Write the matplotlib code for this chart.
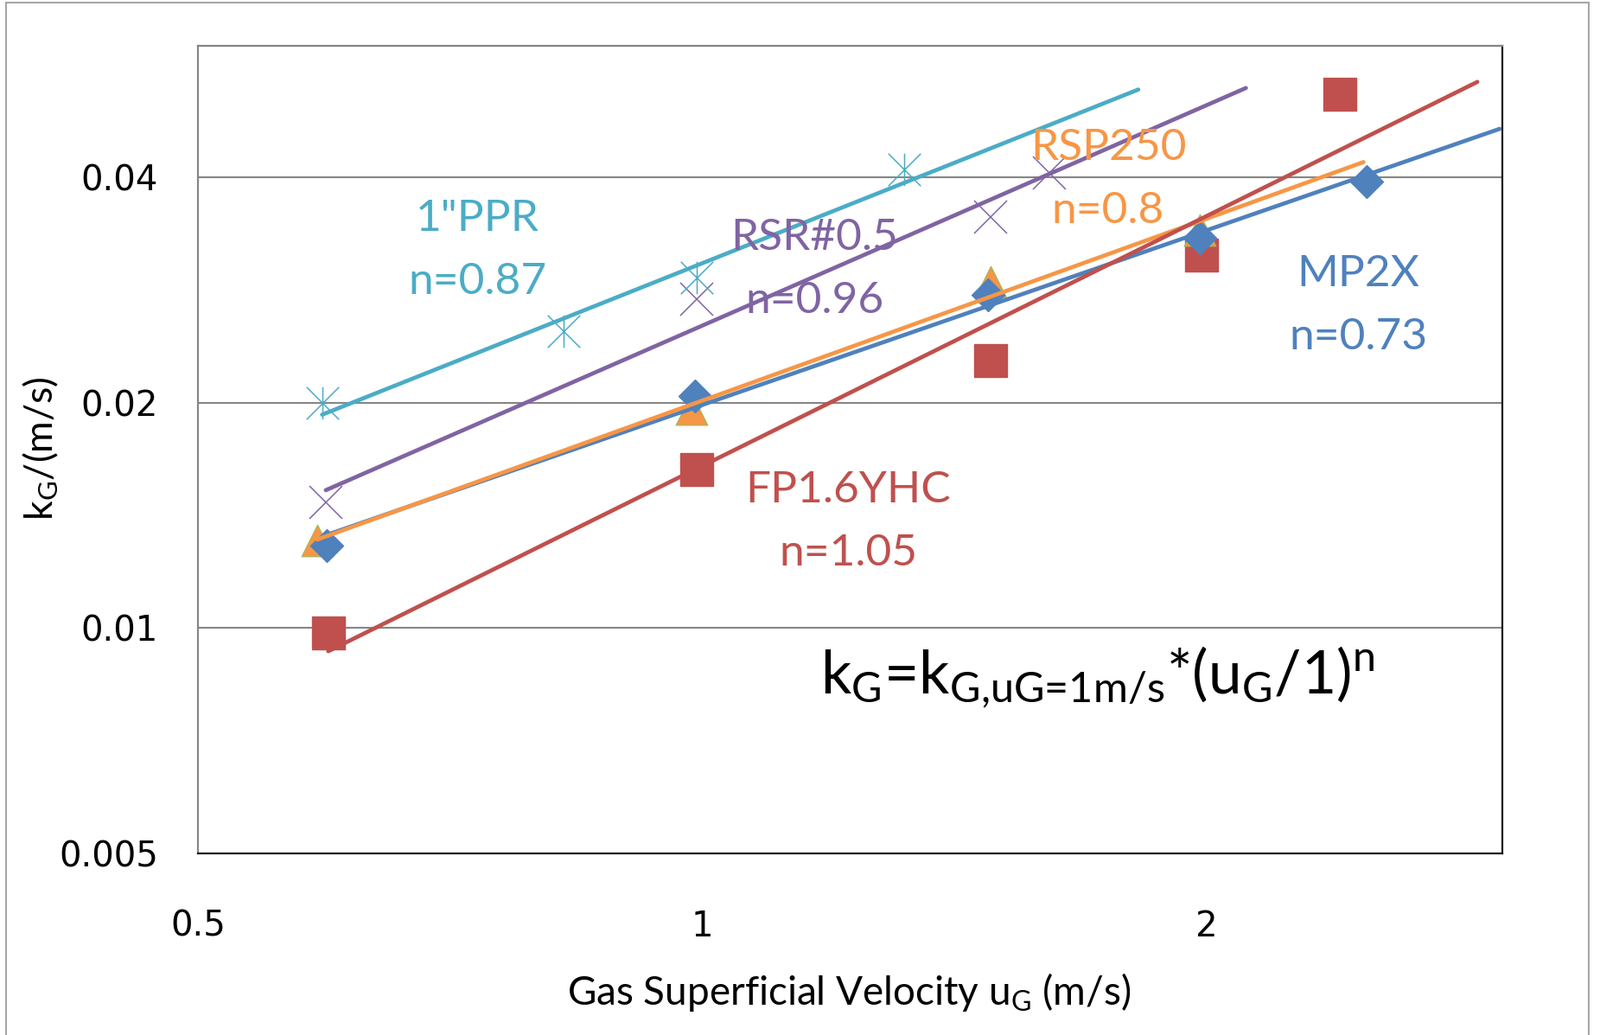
import numpy as np
import matplotlib
matplotlib.use("Agg")
import matplotlib.pyplot as plt
from matplotlib.path import Path
from matplotlib.patches import Rectangle

plt.rcParams['font.family'] = ['Lato', 'DejaVu Sans']
plt.rcParams['mathtext.fontset'] = 'custom'
plt.rcParams['mathtext.rm'] = 'Lato'
plt.rcParams['mathtext.it'] = 'Lato:italic'

# data (u_G in m/s, k_G in m/s)
mp2x_u = [0.597, 0.99, 1.48, 1.98, 2.49]
mp2x_k = [0.0129, 0.0204, 0.0279, 0.0332, 0.0395]

rsp250_u = [0.589, 0.985, 1.485, 1.98]
rsp250_k = [0.0131, 0.0196, 0.0290, 0.0340]

fp_u = [0.598, 0.992, 1.485, 1.985, 2.40]
fp_k = [0.00984, 0.0163, 0.0228, 0.0315, 0.0517]

rsr_u = [0.596, 0.992, 1.485, 1.61]
rsr_k = [0.0147, 0.0275, 0.0354, 0.0406]

ppr_u = [0.593, 0.826, 0.992, 1.32]
ppr_k = [0.0200, 0.0249, 0.0294, 0.0410]

series_names = ['MP2X', 'RSP250', 'FP1.6YHC', 'RSR#0.5', '1"PPR']
n_labels = ['n=0.73', 'n=0.8', 'n=1.05', 'n=0.96', 'n=0.87']
forecast = 0.5  # trendline forward forecast (m/s)

x_ticks = [0.5, 1, 2]
x_ticklabels = ['0.5', '1', '2']
y_ticks = [0.005, 0.01, 0.02, 0.04]
y_ticklabels = ['0.005', '0.01', '0.02', '0.04']

blue = '#4F81BD'
orange = '#F79646'
red = '#C0504D'
purple = '#8064A2'
cyan = '#4BACC6'

W, H = 1851, 1197
fig = plt.figure(figsize=(W / 100, H / 100), dpi=100)
ax = fig.add_axes([229 / W, 1 - 986.7 / H, (1737.7 - 229) / W, (986.7 - 53) / H])

# custom markers
tri = Path([(0, 1), (-1, -1), (1, -1), (0, 1)],
           [Path.MOVETO, Path.LINETO, Path.LINETO, Path.CLOSEPOLY])
star = Path([(-1, -1), (1, 1), (-1, 1), (1, -1), (0, -1), (0, 1)],
            [Path.MOVETO, Path.LINETO, Path.MOVETO, Path.LINETO, Path.MOVETO, Path.LINETO])

ax.plot(fp_u, fp_k, ls='none', marker='s', ms=27.5, color=red, mec=red, zorder=2)
ax.plot(rsp250_u, rsp250_k, ls='none', marker=tri, ms=26.5, color=orange,
        mec='#9BBB59', mew=0.8, zorder=2)
ax.plot(mp2x_u, mp2x_k, ls='none', marker='D', ms=19, color=blue, mec=blue, zorder=2)
ax.plot(rsr_u, rsr_k, ls='none', marker='x', ms=27, mec=purple, mew=1.1, zorder=2)
ax.plot(ppr_u, ppr_k, ls='none', marker=star, ms=27, mfc='none', mec=cyan, mew=1.1, zorder=2)


def power_trend(u, k, color):
    # power-law trendline, like Excel: fit in log-log, extend forward
    u = np.array(u)
    k = np.array(k)
    n, c = np.polyfit(np.log(u), np.log(k), 1)
    uu = np.geomspace(u.min(), u.max() + forecast, 50)
    ax.plot(uu, np.exp(c) * uu ** n, color=color, lw=3.4, solid_capstyle='round', zorder=3)


power_trend(mp2x_u, mp2x_k, blue)
power_trend(rsp250_u, rsp250_k, orange)
power_trend(fp_u, fp_k, red)
power_trend(rsr_u, rsr_k, purple)
power_trend(ppr_u, ppr_k, cyan)

ax.set_xscale('log')
ax.set_yscale('log')
ax.set_xlim(0.5, 3.0)
ax.set_ylim(0.005, 0.06)
ax.set_xticks(x_ticks)
ax.set_xticklabels(x_ticklabels)
ax.set_yticks(y_ticks)
ax.set_yticklabels(y_ticklabels)
ax.minorticks_off()
ax.tick_params(length=0, labelsize=29)
ax.tick_params(axis='y', pad=33)
ax.tick_params(axis='x', pad=47)
for lab in ax.get_xticklabels() + ax.get_yticklabels():
    lab.set_fontfamily('DejaVu Sans')
ax.grid(axis='y', color='#868686', lw=1.5)
ax.set_axisbelow(True)
for s in ['left', 'top']:
    ax.spines[s].set_color('#868686')
    ax.spines[s].set_linewidth(1.6)
for s in ['right', 'bottom']:
    ax.spines[s].set_color('#1a1a1a')
    ax.spines[s].set_linewidth(1.6)

# series labels (positions in pixels of the full picture)
label_pos = {'MP2X': (1571, 317, blue), 'RSP250': (1282, 171, orange),
             'FP1.6YHC': (981, 567, red), 'RSR#0.5': (942, 275, purple),
             '1"PPR': (552, 253, cyan)}
for name, nl in zip(series_names, n_labels):
    px, py, col = label_pos[name]
    fig.text(px / W, 1 - py / H, name, color=col, fontsize=37, ha='center', va='center')
    fig.text(px / W, 1 - (py + 73) / H, nl, color=col, fontsize=37, ha='center', va='center')

fig.text(1270 / W, 1 - 783 / H,
         r'$\mathrm{k}_\text{G}$=$\mathrm{k}_\text{G,uG=1m/s}$*($\mathrm{u}_\text{G}$/1)$^\text{n}$',
         fontsize=50, ha='center', va='center')

fig.text(982 / W, 1 - 1148 / H, r'Gas Superficial Velocity $\mathrm{u}_\text{G}$ (m/s)',
         fontsize=33, ha='center', va='center')
fig.text(47 / W, 1 - 519 / H, r'$\mathrm{k}_\text{G}$/(m/s)', fontsize=32, rotation=90,
         ha='center', va='center')

fig.add_artist(Rectangle((7 / W, -0.01), (1838 - 7) / W, (1197 - 3) / H + 0.01,
                         transform=fig.transFigure, fill=False, edgecolor='#a6a6a6', lw=1.5))

fig.savefig('out.png', dpi=100)
